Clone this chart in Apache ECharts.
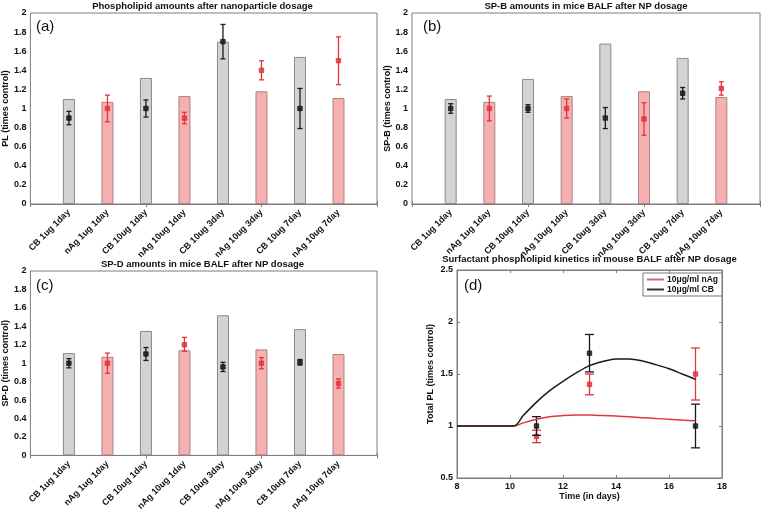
<!DOCTYPE html>
<html>
<head>
<meta charset="utf-8">
<script src="https://cdn.jsdelivr.net/npm/echarts@6/dist/echarts.min.js"></script>
<style>html,body{margin:0;padding:0;background:#fff}#c{width:764px;height:513px}</style>
</head>
<body>
<div id="c"></div>
<script>
const categories = ['CB 1ug 1day','nAg 1ug 1day','CB 10ug 1day','nAg 10ug 1day','CB 10ug 3day','nAg 10ug 3day','CB 10ug 7day','nAg 10ug 7day'];

const plBars  = [1.10,1.07,1.32,1.13,1.70,1.18,1.54,1.11];
const plMean  = [0.90,1.00,1.00,0.90,1.70,1.40,1.00,1.50];
const plLow   = [0.83,0.86,0.91,0.84,1.52,1.30,0.79,1.25];
const plHigh  = [0.97,1.14,1.09,0.96,1.88,1.50,1.21,1.75];

const spbBars = [1.10,1.07,1.31,1.13,1.68,1.18,1.53,1.12];
const spbMean = [1.00,1.00,1.00,1.00,0.90,0.89,1.16,1.21];
const spbLow  = [0.95,0.87,0.96,0.90,0.79,0.72,1.10,1.14];
const spbHigh = [1.05,1.13,1.04,1.10,1.01,1.06,1.22,1.28];

const spdBars = [1.11,1.07,1.35,1.14,1.52,1.15,1.37,1.10];
const spdMean = [1.00,1.00,1.10,1.20,0.96,1.00,1.01,0.78];
const spdLow  = [0.95,0.89,1.03,1.13,0.91,0.94,0.98,0.73];
const spdHigh = [1.05,1.11,1.17,1.28,1.01,1.06,1.04,0.83];

const kinDays = [11,13,17];
const cbMean = [1.00,1.70,1.00];
const cbLow  = [0.91,1.52,0.79];
const cbHigh = [1.09,1.88,1.21];
const agMean = [0.90,1.40,1.50];
const agLow  = [0.84,1.30,1.25];
const agHigh = [0.96,1.50,1.75];

const curveT  = [8,9,10.15,10.5,11,11.5,12,12.5,13,13.5,14,14.5,15,15.5,16,16.5,17];
const cbCurve = [1,1,1,1.10,1.23,1.34,1.43,1.51,1.58,1.62,1.645,1.645,1.625,1.59,1.55,1.50,1.45];
const agCurve = [1,1,1,1.03,1.065,1.09,1.10,1.105,1.105,1.10,1.095,1.088,1.08,1.072,1.065,1.057,1.05];

const titles = ['Phospholipid amounts after nanoparticle dosage','SP-B amounts in mice BALF after NP dosage','SP-D amounts in mice BALF after NP dosage','Surfactant phospholipid kinetics in mouse BALF after NP dosage'];
const yNames = ['PL (times control)','SP-B (times control)','SP-D (times control)','Total PL (times control)'];
const panelTags = ['(a)','(b)','(c)','(d)'];

const FONT = 'Liberation Sans, Arial, sans-serif';
const AXC = '#7d7d7d';
const GREY = '#d3d3d3', GREY_B = '#8a8a8a';
const PINK = '#f5b1b1', PINK_B = '#b08080';
const BLK = '#1a1a1a', RED = '#e0363c';

const xCats = [''].concat(categories, ['']);

const grids = [
  {left:28, top:13, width:349, height:191},
  {left:412, top:13, width:348, height:191},
  {left:28, top:271, width:349, height:192},
  {left:457, top:270, width:265, height:208}
];

const xAxes = [], yAxes = [], series = [];
const lbl = {fontSize:9, fontWeight:'bold', color:'#111', fontFamily:FONT};
const tick = {inside:true, length:3, lineStyle:{color:AXC}};
const line = {lineStyle:{color:AXC, width:1}};

function errRender(colorFn, capHalf) {
  return function(params, api) {
    const x = api.value(0), m = api.value(1), lo = api.value(2), hi = api.value(3);
    const pm = api.coord([x, m]), pl = api.coord([x, lo]), ph = api.coord([x, hi]);
    const c = colorFn(params.dataIndex);
    const ls = {stroke:c, lineWidth:1.3};
    return {type:'group', children:[
      {type:'line', shape:{x1:pm[0], y1:pl[1], x2:pm[0], y2:ph[1]}, style:ls},
      {type:'line', shape:{x1:pm[0]-capHalf, y1:pl[1], x2:pm[0]+capHalf, y2:pl[1]}, style:ls},
      {type:'line', shape:{x1:pm[0]-capHalf, y1:ph[1], x2:pm[0]+capHalf, y2:ph[1]}, style:ls},
      {type:'rect', shape:{x:pm[0]-2.2, y:pm[1]-2.2, width:4.4, height:4.4}, style:{fill:c, stroke:c, lineWidth:1, opacity:0.85}}
    ]};
  };
}

function barPanel(gi, bars, mean, low, high) {
  const xi = xAxes.length, yi = yAxes.length;
  xAxes.push({type:'category', gridIndex:gi, data:xCats, boundaryGap:false,
    axisLine:line, axisTick:tick,
    axisLabel:Object.assign({rotate:45, interval:0, margin:7}, lbl)});
  xAxes.push({type:'category', gridIndex:gi, data:xCats, boundaryGap:false, position:'top',
    axisLine:line, axisTick:tick, axisLabel:{show:false}});
  yAxes.push({type:'value', gridIndex:gi, min:0, max:2, interval:0.2,
    name:yNames[gi], nameLocation:'middle', nameGap:gi===1?20:18,
    nameTextStyle:{fontSize:9, fontWeight:'bold', color:'#111', fontFamily:FONT},
    axisLine:line, axisTick:tick, splitLine:{show:false},
    axisLabel:Object.assign({margin:4, formatter:v=>String(Math.round(v*10)/10)}, lbl)});
  yAxes.push({type:'value', gridIndex:gi, min:0, max:2, interval:0.2, position:'right',
    axisLine:line, axisTick:tick, splitLine:{show:false}, axisLabel:{show:false}});
  const bdata = [null].concat(bars.map((v,i)=>({value:v, itemStyle:{
      color: i%2===0?GREY:PINK, borderColor: i%2===0?GREY_B:PINK_B, borderWidth:1}})), [null]);
  series.push({type:'bar', xAxisIndex:xi, yAxisIndex:yi, data:bdata, barWidth:12, silent:true});
  const edata = mean.map((m,i)=>[i+1, m, low[i], high[i]]);
  series.push({type:'custom', xAxisIndex:xi, yAxisIndex:yi, data:edata, z:5,
    renderItem: errRender(i=> i%2===0?BLK:RED, 2.5)});
}

barPanel(0, plBars, plMean, plLow, plHigh);
barPanel(1, spbBars, spbMean, spbLow, spbHigh);
barPanel(2, spdBars, spdMean, spdLow, spdHigh);

// panel d
(function(){
  const gi = 3, xi = xAxes.length, yi = yAxes.length;
  xAxes.push({type:'value', gridIndex:gi, min:8, max:18, interval:2,
    name:'Time (in days)', nameLocation:'middle', nameGap:12,
    nameTextStyle:{fontSize:9, fontWeight:'bold', color:'#111', fontFamily:FONT},
    axisLine:line, axisTick:tick, splitLine:{show:false}, axisLabel:Object.assign({margin:4}, lbl)});
  xAxes.push({type:'value', gridIndex:gi, min:8, max:18, interval:2, position:'top',
    axisLine:line, axisTick:tick, splitLine:{show:false}, axisLabel:{show:false}});
  yAxes.push({type:'value', gridIndex:gi, min:0.5, max:2.5, interval:0.5,
    name:yNames[3], nameLocation:'middle', nameGap:22,
    nameTextStyle:{fontSize:9, fontWeight:'bold', color:'#111', fontFamily:FONT},
    axisLine:line, axisTick:tick, splitLine:{show:false}, axisLabel:Object.assign({margin:4}, lbl)});
  yAxes.push({type:'value', gridIndex:gi, min:0.5, max:2.5, interval:0.5, position:'right',
    axisLine:line, axisTick:tick, splitLine:{show:false}, axisLabel:{show:false}});
  series.push({type:'custom', xAxisIndex:xi, yAxisIndex:yi, z:3,
    data: kinDays.map((d,i)=>[d, agMean[i], agLow[i], agHigh[i]]),
    renderItem: errRender(()=>RED, 4.5)});
  series.push({type:'custom', xAxisIndex:xi, yAxisIndex:yi, z:3,
    data: kinDays.map((d,i)=>[d, cbMean[i], cbLow[i], cbHigh[i]]),
    renderItem: errRender(()=>BLK, 4.5)});
  series.push({type:'line', name:'10μg/ml nAg', xAxisIndex:xi, yAxisIndex:yi, showSymbol:false, smooth:0.3,
    data: curveT.map((t,i)=>[t, agCurve[i]]), lineStyle:{color:RED, width:1.5}, itemStyle:{color:'#d86a6a'}, z:4});
  series.push({type:'line', name:'10μg/ml CB', xAxisIndex:xi, yAxisIndex:yi, showSymbol:false, smooth:0.3,
    data: curveT.map((t,i)=>[t, cbCurve[i]]), lineStyle:{color:BLK, width:1.5}, itemStyle:{color:'#333'}, z:4});
})();

const titleCenters = [[202.5,1],[586,1],[202.5,259],[589.5,254]];
const chart = echarts.init(document.getElementById('c'), null, {renderer:'canvas'});
chart.setOption({
  animation:false,
  backgroundColor:'#fff',
  title: titles.map((t,i)=>({text:t, left:titleCenters[i][0], top:titleCenters[i][1], textAlign:'center', padding:0,
    textStyle:{fontSize:9.5, fontWeight:'bold', color:'#111', fontFamily:FONT}})),
  grid: grids.map(g=>Object.assign({show:true, borderColor:AXC, borderWidth:1, backgroundColor:'#fff', containLabel:false}, g)),
  xAxis: xAxes,
  yAxis: yAxes,
  legend: {data:['10μg/ml nAg','10μg/ml CB'], left:643, top:273, orient:'vertical', itemGap:1,
    itemWidth:17, itemHeight:2, icon:'rect', padding:[2,4,2,4],
    backgroundColor:'#fff', borderColor:'#777', borderWidth:1,
    textStyle:{fontSize:8.5, fontWeight:'bold', color:'#111', fontFamily:FONT, padding:[0,0,0,-2]}},
  graphic: [
    {type:'text', left:36, top:19, style:{text:panelTags[0], fontSize:15, fill:'#111', fontFamily:FONT}},
    {type:'text', left:423, top:19, style:{text:panelTags[1], fontSize:15, fill:'#111', fontFamily:FONT}},
    {type:'text', left:36, top:278, style:{text:panelTags[2], fontSize:15, fill:'#111', fontFamily:FONT}},
    {type:'text', left:464, top:278, style:{text:panelTags[3], fontSize:15, fill:'#111', fontFamily:FONT}}
  ],
  series: series
});
</script>
</body>
</html>
